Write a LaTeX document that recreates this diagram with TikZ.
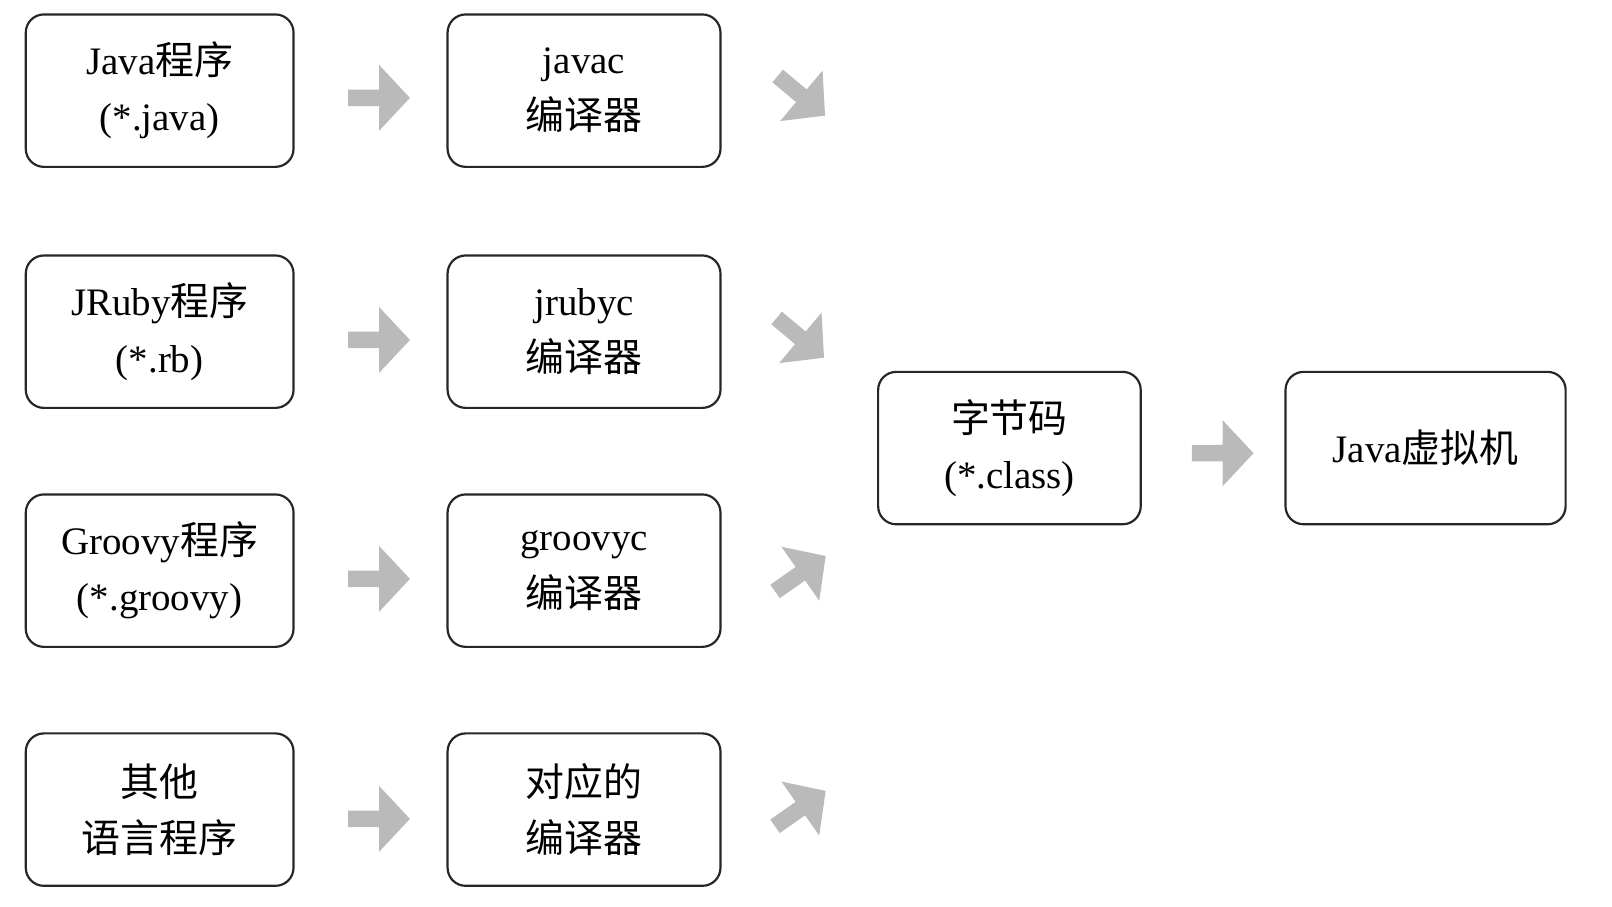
\documentclass[tikz,border=0pt]{standalone}
\usepackage{fontspec}
\setmainfont{Liberation Serif}
\newfontfamily\cjk{Noto Sans CJK SC}
\begin{document}
\begin{tikzpicture}[x=0.02cm,y=-0.02cm,
 box/.style={draw=black!85,line width=1.2pt,rounded corners=10pt,minimum width=5.2cm,minimum height=2.96cm,align=center,font=\fontsize{21.5}{31}\selectfont,inner sep=0pt},
 barrow/.pic={\fill[black!27] (-30,-8)--(0,-8)--(0,-32)--(30,0)--(0,32)--(0,8)--(-30,8)--cycle;}]
\useasboundingbox (0,0) rectangle (1565,880);
\node[box] (a1) at (155,88) {Java{\cjk 程序}\\(*.java)};
\node[box] (a2) at (155,322) {JRuby{\cjk 程序}\\(*.rb)};
\node[box] (a3) at (155,554) {Groovy{\cjk 程序}\\(*.groovy)};
\node[box] (a4) at (155,786) {{\cjk 其他}\\{\cjk 语言程序}};
\node[box,minimum width=5.3cm] (b1) at (567,88) {javac\\{\cjk 编译器}};
\node[box,minimum width=5.3cm] (b2) at (567,322) {jrubyc\\{\cjk 编译器}};
\node[box,minimum width=5.3cm] (b3) at (567,554) {groovyc\\{\cjk 编译器}};
\node[box,minimum width=5.3cm] (b4) at (567,786) {{\cjk 对应的}\\{\cjk 编译器}};
\node[box,minimum width=5.1cm] (c) at (980,435) {{\cjk 字节码}\\(*.class)};
\node[box,minimum width=5.44cm] (d) at (1384,435) {Java{\cjk 虚拟机}};
\foreach \y in {95,330,562,795} \pic at (368,\y) {barrow};
\pic at (1187,440) {barrow};
\pic[rotate=-40] at (778,93) {barrow};
\pic[rotate=-40] at (777,328) {barrow};
\pic[rotate=35] at (777,557) {barrow};
\pic[rotate=35] at (777,785) {barrow};
\end{tikzpicture}
\end{document}
